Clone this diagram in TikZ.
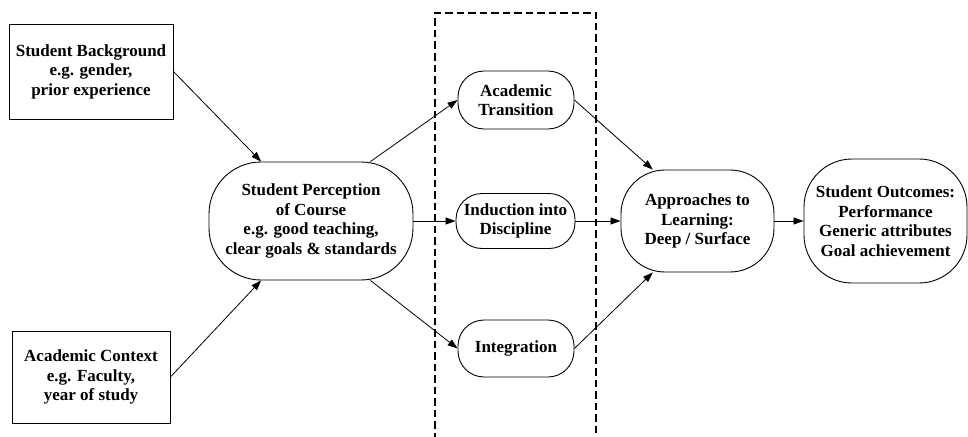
\documentclass[tikz,border=0pt]{standalone}
\usepackage{fontspec}
\setmainfont{Liberation Serif}
\usetikzlibrary{arrows.meta}
\begin{document}
\begin{tikzpicture}[x=1pt,y=-1pt,
  every node/.style={font=\fontsize{17}{19.5}\selectfont\bfseries, align=center, inner sep=0pt},
  sqbox/.style={draw, line width=0.9pt, rectangle},
  oval/.style={draw, line width=0.9pt, rectangle},
  conn/.style={line width=0.8pt, -{Triangle[length=10pt,width=7pt]}}
]
\useasboundingbox (0,0) rectangle (968,436);
% dashed frame
\coordinate (fbl) at (435,440);
\coordinate (ftl) at (435,13);
\coordinate (ftr) at (596,13);
\coordinate (fbr) at (596,440);
\draw[line width=2pt, dash pattern=on 7.5pt off 4pt] (fbl) -- (ftl) -- (ftr) -- (fbr);
% nodes
\node[sqbox, minimum width=164pt, minimum height=95pt] (bg) at (91,71.5) {Student Background\\e.g. gender,\\prior experience};
\node[sqbox, minimum width=158pt, minimum height=92pt] (ctx) at (91,377) {Academic Context\\e.g. Faculty,\\year of study};
\node[oval, rounded corners=52pt, minimum width=204pt, minimum height=118pt] (persp) at (311,221) {Student Perception\\of Course\\e.g. good teaching,\\clear goals \& standards};
\node[oval, rounded corners=26pt, minimum width=116pt, minimum height=58pt] (trans) at (516,100) {Academic\\Transition};
\node[oval, rounded corners=26pt, minimum width=119pt, minimum height=55pt] (ind) at (515.5,221) {Induction into\\Discipline};
\node[oval, rounded corners=26pt, minimum width=116pt, minimum height=57pt] (integ) at (516,348.5) {Integration};
\node[oval, rounded corners=44pt, minimum width=153pt, minimum height=102pt] (appr) at (697.5,221) {Approaches to\\Learning:\\Deep / Surface};
\node[oval, rounded corners=48pt, minimum width=163pt, minimum height=124pt] (out) at (885.5,221) {Student Outcomes:\\Performance\\Generic attributes\\Goal achievement};
% connectors
\draw[conn] (bg.east) -- (persp.130);
\draw[conn] (ctx.east) -- (persp.230);
\draw[conn] (persp.45) -- (trans.west);
\draw[conn] (persp.east) -- (ind.west);
\draw[conn] (persp.-45) -- (integ.west);
\draw[conn] (trans.east) -- (appr.131);
\draw[conn] (ind.east) -- (appr.west);
\draw[conn] (integ.east) -- (appr.229);
\draw[conn] (appr.east) -- (out.west);
\end{tikzpicture}
\end{document}
